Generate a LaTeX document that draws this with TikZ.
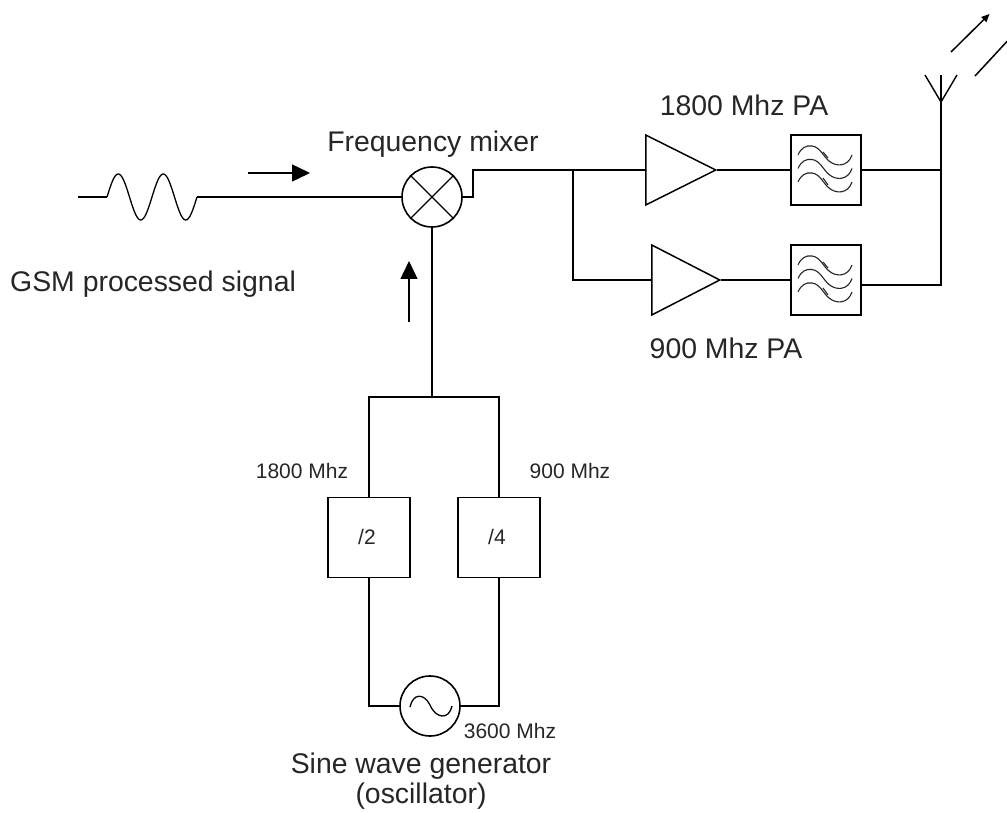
\documentclass[tikz,border=0pt]{standalone}
\usepackage{fontspec}
\setmainfont{Liberation Sans}
\usetikzlibrary{shapes.geometric,arrows.meta}
\tikzset{
  x=1pt,y=-1pt,
  wire/.style={line width=1.7pt,line join=miter},
  boxnode/.style={draw,line width=1.6pt,rectangle,inner sep=0pt,minimum width=#1,minimum height=70pt},
  ringnode/.style={draw,line width=1.6pt,circle,inner sep=0pt,minimum size=60pt},
  amp/.style={draw,line width=1.5pt,isosceles triangle,isosceles triangle apex angle=52.5,isosceles triangle stretches,inner sep=0pt,minimum width=70pt,minimum height=#1},
  bigtext/.style={font=\fontsize{28.4}{32}\selectfont,text=black!85,inner sep=0pt},
  smalltext/.style={font=\fontsize{21}{24}\selectfont,text=black!85,inner sep=0pt},
  flow/.style={line width=1.5pt,-{Triangle[length=18pt,width=17pt]}},
  radio/.style={line width=1.5pt,-{Triangle[length=8pt,width=7pt]}},
}
\newcommand{\filterwaves}[1]{%
  \foreach \d in {0,13.5,27}{
    \draw[line width=1.1pt,black!85,shift={(#1)},yshift=-\d pt]
      (-28,-15) .. controls (-25,-22) and (-20,-25) .. (-14,-24)
      .. controls (-6,-23) and (-3,-14) .. (3,-9)
      .. controls (10,-3) and (22,-3) .. (26,-15);
  }
  \draw[line width=1.1pt,black!85,shift={(#1)}] (-3,-18) -- (2,-12) (-3,8) -- (2,15);
}
\begin{document}
\begin{tikzpicture}
\useasboundingbox (0,0) rectangle (1007,813);
\clip (0,0) rectangle (1007,813);
% mixer and oscillator
\node[ringnode] (mix) at (432,197) {};
\draw[line width=1.4pt] (mix.45) -- (mix.225) (mix.135) -- (mix.315);
\node[ringnode] (osc) at (430,706) {};
\draw[line width=1.3pt] (410,707) .. controls (413,693) and (424,693) .. (430,705)
  .. controls (436,719) and (449,720) .. (452,706);
% source
\coordinate (srcin) at (78,197);
\coordinate (w0) at (107,197);
\coordinate (w1) at (197,197);
\draw[wire,line width=1.4pt] (srcin) -- (w0);
\draw[line width=1.3pt,smooth,samples=90,domain=0:90] plot (107+\x,{197-23*sin(8*\x)});
\draw[wire] (w1) -- (mix.west);
\coordinate (fa) at (248,173);
\coordinate (fb) at (310,173);
\draw[flow] (fa) -- (fb);
\coordinate (ua) at (409,322);
\coordinate (ub) at (409,261);
\draw[flow] (ua) -- (ub);
% amplifiers and filters
\node[amp=70pt,anchor=lower side] (pa1) at (645,170) {};
\node[amp=68pt,anchor=lower side] (pa2) at (651,280) {};
\node[boxnode=70pt] (f1) at (826,170) {};
\node[boxnode=70pt] (f2) at (826,280) {};
\filterwaves{826,170}
\filterwaves{826,280}
\coordinate (m1) at (473,197);
\coordinate (m2) at (473,170);
\coordinate (tee) at (573,170);
\coordinate (ant) at (941,170);
\coordinate (antlow) at (941,285);
\coordinate (anttop) at (941,75);
\coordinate (antroot) at (941,102);
\coordinate (antl) at (925,75);
\coordinate (antr) at (957,75);
\draw[wire] (mix.east) -- (m1) -- (m2) -- (tee) -- (pa1.lower side);
\draw[wire] (tee) |- (pa2.lower side);
\draw[wire] (pa1.apex) -- (pa1.apex -| f1.west);
\draw[wire] (pa2.apex) -- (pa2.apex -| f2.west);
\draw[wire] (ant -| f1.east) -- (ant);
\draw[wire] (antlow -| f2.east) -- (antlow) -- (anttop);
\draw[line width=1.4pt] (antl) -- (antroot) -- (antr);
\coordinate (r1a) at (951,52);
\coordinate (r1b) at (989.5,14);
\coordinate (r2a) at (975,76);
\coordinate (r2b) at (1012,36);
\draw[radio] (r1a) -- (r1b);
\draw[line width=1.5pt] (r2a) -- (r2b);
% dividers
\node[boxnode=82pt,minimum height=80pt] (d2) at (369,537.5) {};
\node[boxnode=82pt,minimum height=80pt] (d4) at (499,537.5) {};
\node[smalltext] (d2t) at (367,537) {/2};
\node[smalltext] (d4t) at (497,537) {/4};
\coordinate (top) at (432,397);
\coordinate (topl) at (369,397);
\coordinate (topr) at (499,397);
\coordinate (botl) at (369,706);
\coordinate (botr) at (499,706);
\draw[wire] (mix.south) -- (top);
\draw[wire] (d2.north) -- (topl) -- (topr) -- (d4.north);
\draw[wire] (d2.south) -- (botl) -- (osc.west);
\draw[wire] (d4.south) -- (botr) -- (osc.east);
% labels
\node[bigtext,anchor=west] (lgsm) at (10,284) {GSM processed signal};
\node[bigtext] (lmix) at (433,144) {Frequency mixer};
\node[bigtext] (lpa1) at (744,105) {1800 Mhz PA};
\node[bigtext] (lpa2) at (726,348) {900 Mhz PA};
\node[smalltext] (l18) at (302,471) {1800 Mhz};
\node[smalltext] (l9) at (570,471) {900 Mhz};
\node[smalltext] (l36) at (510,731) {3600 Mhz};
\node[bigtext] (lsw) at (421,766) {Sine wave generator};
\node[bigtext] (losc) at (421,796) {(oscillator)};
\end{tikzpicture}
\end{document}
